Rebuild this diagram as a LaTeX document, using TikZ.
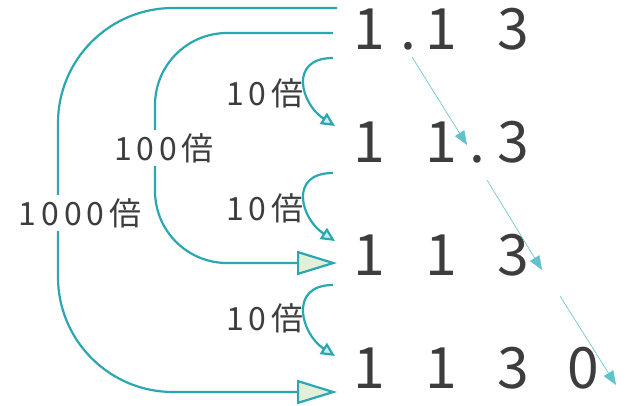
\documentclass[tikz,border=0pt]{standalone}
\usepackage{fontspec}
\setmainfont{Noto Sans CJK JP}
\newfontfamily\lblfont[LetterSpace=15]{Noto Sans CJK JP}
\usetikzlibrary{arrows.meta}
\definecolor{teal1}{HTML}{2AA7B0}
\definecolor{teal2}{HTML}{62C2C9}
\definecolor{bigfill}{HTML}{E2EFD9}
\definecolor{smallfill}{HTML}{CFECEF}
\definecolor{txt}{HTML}{3D3D3D}
\tikzset{
  digit/.style={anchor=base, inner sep=0pt, text height=41pt, text depth=0pt, text=txt, font=\fontsize{57}{57}\selectfont},
  lbl/.style={fill=white, inner sep=3pt, text=txt, font=\lblfont\fontsize{32}{32}\selectfont},
  bigcurve/.style={draw=teal1, line width=2.2pt, rounded corners=#1, -{Triangle[length=40pt,width=24pt,fill=bigfill]}},
  curlarrow/.style={draw=teal1, line width=2.2pt, -{Triangle[length=14pt,width=13pt,fill=smallfill]}},
  dotmove/.style={draw=teal2, line width=0.6pt, -{Triangle[length=14pt,width=11pt,fill=teal2]}}
}
\begin{document}
\begin{tikzpicture}[x=1pt,y=-1pt]
\useasboundingbox (0,0) rectangle (634,405);
% digits
\node[digit] (d11) at (369,49) {1};
\node[digit] (dp1) at (408,49) {.};
\node[digit] (d12) at (441,49) {1};
\node[digit] (d13) at (513,49) {3};
\node[digit] (d21) at (369,162) {1};
\node[digit] (d22) at (441,162) {1};
\node[digit] (dp2) at (477,162) {.};
\node[digit] (d23) at (513,162) {3};
\node[digit] (d31) at (369,275) {1};
\node[digit] (d32) at (441,275) {1};
\node[digit] (d33) at (513,275) {3};
\node[digit] (d41) at (369,388) {1};
\node[digit] (d42) at (441,388) {1};
\node[digit] (d43) at (513,388) {3};
\node[digit] (d44) at (583,388) {0};
% endpoints
\coordinate (k1s) at (337,8);
\coordinate (k1e) at (337,392);
\coordinate (h1s) at (333,33);
\coordinate (h1e) at (337,263);
\coordinate (c1s) at (333,58);
\coordinate (c1e) at (335,126);
\coordinate (c2s) at (333,173);
\coordinate (c2e) at (335,241);
\coordinate (c3s) at (333,285);
\coordinate (c3e) at (335,356);
\coordinate (m1s) at (412,57);
\coordinate (m1e) at (467,145);
\coordinate (m2s) at (487,180);
\coordinate (m2e) at (542,270);
\coordinate (m3s) at (560,296);
\coordinate (m3e) at (616,385);
% big curves
\draw[bigcurve=115pt] (k1s) -- (58,8) -- (58,392) -- (k1e);
\draw[bigcurve=72pt] (h1s) -- (155,33) -- (155,263) -- (h1e);
% curls
\draw[curlarrow] (c1s) .. controls +(-45,0) and +(-34,-22) .. (c1e);
\draw[curlarrow] (c2s) .. controls +(-45,0) and +(-34,-22) .. (c2e);
\draw[curlarrow] (c3s) .. controls +(-45,0) and +(-34,-22) .. (c3e);
% decimal point moves
\draw[dotmove] (m1s) -- (m1e);
\draw[dotmove] (m2s) -- (m2e);
\draw[dotmove] (m3s) -- (m3e);
% labels
\node[lbl] (l1000) at (80,213) {1000倍};
\node[lbl] (l100) at (164,148) {100倍};
\node[lbl, fill=none] (l10a) at (265,93) {10倍};
\node[lbl, fill=none] (l10b) at (265,208) {10倍};
\node[lbl, fill=none] (l10c) at (265,318) {10倍};
\end{tikzpicture}
\end{document}
